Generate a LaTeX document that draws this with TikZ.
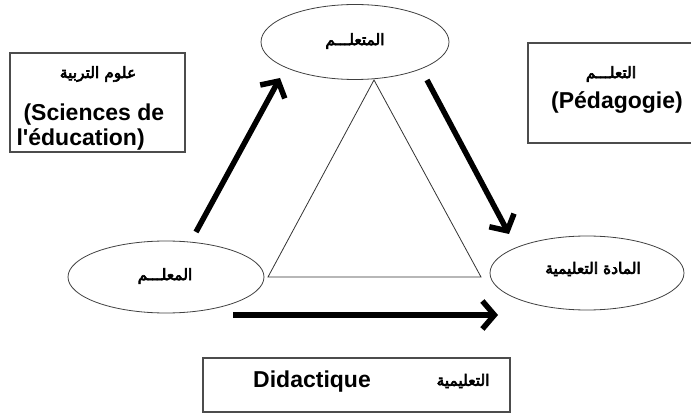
\documentclass[tikz,border=0pt]{standalone}
\usepackage{fontspec}
\setmainfont{Liberation Sans}
\newfontfamily\arabicfont[Script=Arabic,FakeBold=4]{DejaVu Sans}
\TeXXeTstate=1
\usetikzlibrary{shapes.geometric,arrows.meta}
\newcommand{\arabtxt}[1]{\beginR #1\endR}

\begin{document}
\begin{tikzpicture}[x=1pt,y=-1pt,
    role/.style={ellipse,draw=black!75,line width=0.8pt,minimum width=188pt,minimum height=75pt,inner sep=0pt},
    field/.style={draw=black!70,line width=1.3pt,inner sep=0pt},
    bigarrow/.style={-{Straight Barb[length=12pt,width=28pt]},line width=5.5pt},
    lbl/.style={font=\bfseries\fontsize{23}{26}\selectfont},
    albl/.style={font=\arabicfont\fontsize{15.5}{18}\selectfont}]
  \useasboundingbox (0,0) rectangle (691,414);
  \node[field,minimum width=175pt,minimum height=99pt] (sciences) at (97.5,102.5) {};
  \node[field,minimum width=172pt,minimum height=100pt] (pedagogy) at (614,93) {};
  \node[field,minimum width=307pt,minimum height=54pt] (didactics) at (356.5,385) {};
  \node[albl] (scienceslbl) at (98,74) {\arabtxt{علوم التربية}};
  \node[lbl,anchor=west] (sciencesfr) at (20,115) {(Sciences de};
  \node[lbl,anchor=west] (sciencesfr2) at (13,139) {l\textquotesingle éducation)};
  \node[albl] (pedagogylbl) at (611,74) {\arabtxt{التعلـــم}};
  \node[lbl] (pedagogyfr) at (617,103) {(Pédagogie)};
  \node[lbl] (didacticsfr) at (312,382) {Didactique};
  \node[albl] (didacticslbl) at (463,381) {\arabtxt{التعليمية}};

  \node[role] (learner) at (355,42) {};
  \node[albl] (learnerlbl) at (355,41) {\arabtxt{المتعلـــم}};
  \node[role,minimum width=196pt,minimum height=72pt] (teacher) at (166,277) {};
  \node[albl] (teacherlbl) at (165,276) {\arabtxt{المعلـــم}};
  \node[role,minimum width=194pt,minimum height=74pt] (content) at (587,273) {};
  \node[albl] (contentlbl) at (593,269) {\arabtxt{المادة التعليمية}};

  \coordinate (apex) at (374,80);
  \coordinate (baseleft) at (268,277);
  \coordinate (baseright) at (481,277);
  \draw[black!80,line width=0.8pt] (apex) -- (baseleft) -- (baseright) -- cycle;

  \coordinate (up1) at (196,232);
  \coordinate (up2) at (280,78);
  \coordinate (down1) at (427,80);
  \coordinate (down2) at (509,234);
  \coordinate (flat1) at (233,315);
  \coordinate (flat2) at (498,315);
  \draw[bigarrow] (up1) -- (up2);
  \draw[bigarrow] (down1) -- (down2);
  \draw[bigarrow] (flat1) -- (flat2);
\end{tikzpicture}
\end{document}
